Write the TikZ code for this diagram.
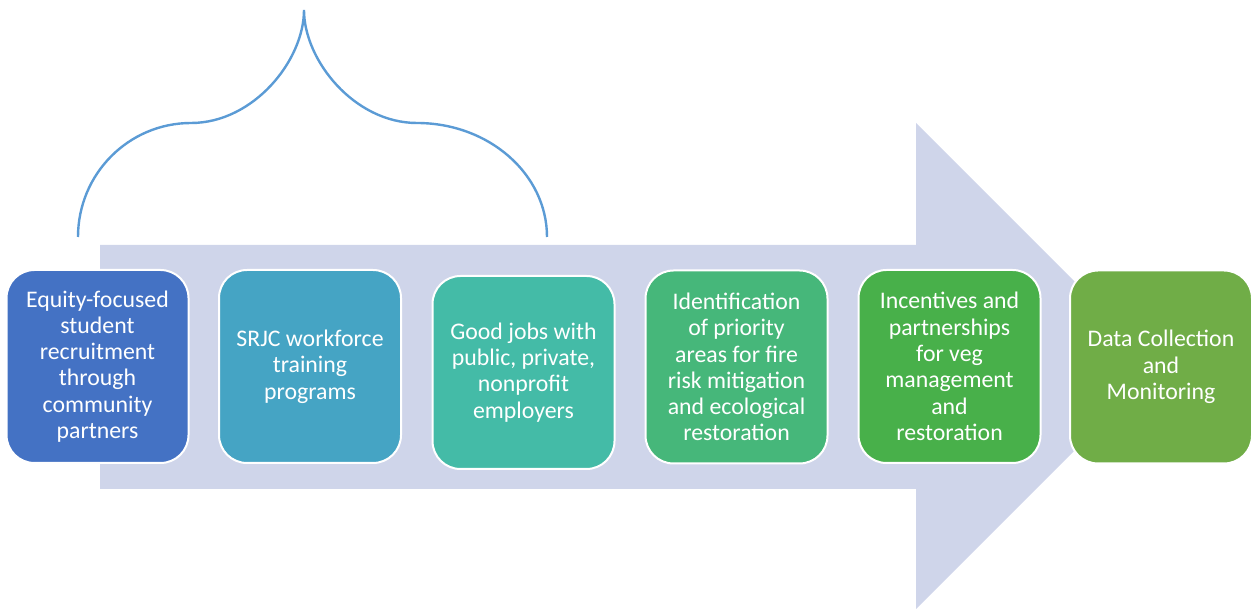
\documentclass[tikz,border=0pt]{standalone}
\usepackage{fontspec}
\setmainfont{Carlito}
\definecolor{arrowc}{HTML}{CFD5EA}
\definecolor{bracec}{HTML}{5B9BD5}
\definecolor{cA}{HTML}{4472C4}
\definecolor{cB}{HTML}{45A4C4}
\definecolor{cC}{HTML}{44BBA7}
\definecolor{cD}{HTML}{46B77A}
\definecolor{cE}{HTML}{48B04A}
\definecolor{cF}{HTML}{70AD47}
\begin{document}
\begin{tikzpicture}[x=1pt,y=-1pt,
  stagebox/.style={rounded corners=28pt, draw=white, line width=2pt,
    minimum width=182pt, minimum height=193pt, text=white, align=center,
    inner sep=0pt, font=\fontsize{23.8}{26.3}\selectfont}]
\useasboundingbox (0,0) rectangle (1251,609);
% big arrow
\fill[arrowc] (100,245) -- (916,245) -- (916,123) -- (1159,366) -- (916,609)
  -- (916,489) -- (100,489) -- cycle;
% brace
\draw[bracec, line width=2.4pt]
  (78,237) .. controls (78,174) and (128.6,123) .. (191,123)
  .. controls (253.4,123) and (304,60.6) .. (304,10)
  .. controls (304,60.6) and (354.6,123) .. (417,123)
  .. controls (488.8,123) and (547,174) .. (547,237);
% boxes
\node[stagebox, fill=cA] (b1) at (97.5,366.5) {Equity-focused\\student\\recruitment\\through\\community\\partners};
\node[stagebox, fill=cB] (b2) at (310,366.5) {SRJC workforce\\training\\programs};
\node[stagebox, fill=cC] (b3) at (523.5,372.5) {Good jobs with\\public, private,\\nonprofit\\employers};
\node[stagebox, fill=cD] (b4) at (736.5,367) {Identification\\of priority\\areas for fire\\risk mitigation\\and ecological\\restoration};
\node[stagebox, fill=cE] (b5) at (949.5,366.5) {Incentives and\\partnerships\\for veg\\management\\and\\restoration};
\node[stagebox, fill=cF] (b6) at (1161,367) {Data Collection\\and\\Monitoring};
\end{tikzpicture}
\end{document}
